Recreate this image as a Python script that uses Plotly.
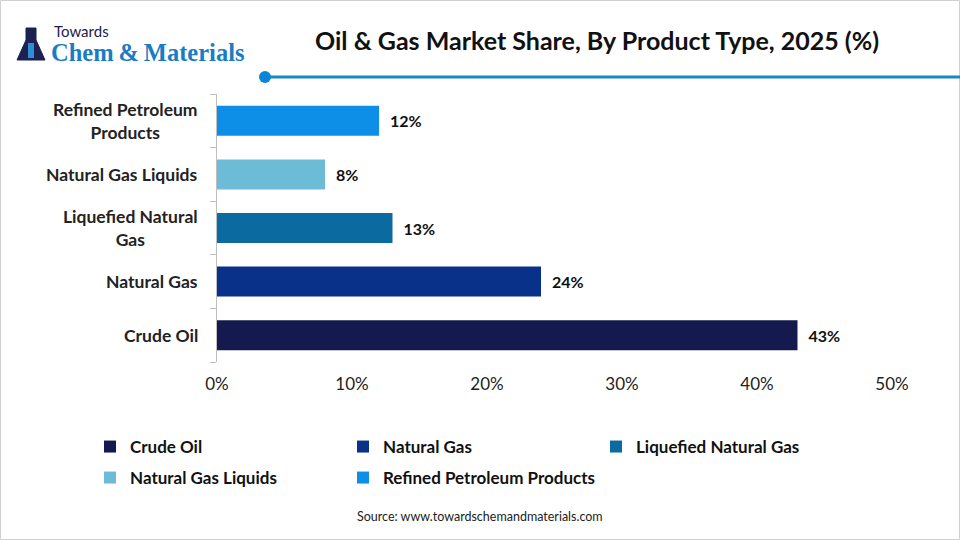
import plotly.graph_objects as go

categories = ["Crude Oil", "Natural Gas", "Liquefied Natural Gas", "Natural Gas Liquids", "Refined Petroleum Products"]
axis_labels = ["Crude Oil", "Natural Gas", "Liquefied Natural<br>Gas", "Natural Gas Liquids", "Refined Petroleum<br>Products"]
shares = [43, 24, 13, 8, 12]
colors = ["#141A4E", "#0A318A", "#0B6BA0", "#6CBCD8", "#0D8FE8"]
legend_rows = ["legend", "legend", "legend", "legend2", "legend2"]
x_ticks = [0, 10, 20, 30, 40, 50]
x_tick_text = ["0%", "10%", "20%", "30%", "40%", "50%"]

W, H = 960, 540
L, R, T, B = 217, 68, 94, 178
PW, PH = W - L - R, H - T - B

def px(x):
    return (x - L) / PW

def py(y):
    return (H - B - y) / PH

FONT = "Lato"

fig = go.Figure()
for cat, val, col, lg in zip(categories, shares, colors, legend_rows):
    fig.add_trace(go.Bar(
        x=[val], y=[cat], orientation="h", name=cat, legend=lg,
        marker=dict(color=col, line=dict(width=0)),
        width=0.56,
        text=[f"\u2002{val}%"], textposition="outside",
        textfont=dict(family=FONT, size=16, color="#111111", weight="bold"),
        cliponaxis=False,
        hoverinfo="skip",
    ))

annotations = []
for cat, lab in zip(categories, axis_labels):
    annotations.append(dict(
        x=px(L - 17), xref="paper", y=cat, yref="y", text=lab, showarrow=False,
        xanchor="right", align="center",
        font=dict(family=FONT, size=17.5, color="#222222", weight="bold"),
    ))

annotations += [
    dict(x=px(597), y=py(40), xref="paper", yref="paper", text="Oil & Gas Market Share, By Product Type, 2025 (%)",
         showarrow=False, xanchor="center", yanchor="middle",
         font=dict(family=FONT, size=25, color="#111111", weight="bold")),
    dict(x=px(480), y=py(516), xref="paper", yref="paper", text="Source: www.towardschemandmaterials.com",
         showarrow=False, xanchor="center", yanchor="middle",
         font=dict(family=FONT, size=12.5, color="#222222")),
    dict(x=px(52), y=py(31), xref="paper", yref="paper", text="Towards",
         showarrow=False, xanchor="left", yanchor="middle",
         font=dict(family="Lato", size=15, color="#1B2150")),
    dict(x=px(49), y=py(52), xref="paper", yref="paper", text="Chem\u2009&\u2009Materials",
         showarrow=False, xanchor="left", yanchor="middle",
         font=dict(family="Liberation Serif", size=24.5, color="#1A7CC4", weight="bold")),
]

shapes = [
    dict(type="rect", xref="paper", yref="paper", x0=px(0.5), x1=px(959.5), y0=py(0.5), y1=py(539.5),
         line=dict(color="#D0D0D0", width=1), fillcolor="rgba(0,0,0,0)", layer="below"),
    dict(type="line", xref="paper", yref="paper", x0=px(265), x1=px(960), y0=py(77), y1=py(77),
         line=dict(color="#1A86C7", width=3)),
    dict(type="circle", xref="paper", yref="paper", x0=px(259), x1=px(271), y0=py(71), y1=py(83),
         line=dict(color="#0A86D6", width=0), fillcolor="#0A86D6"),
    dict(type="path", xref="paper", yref="paper",
         path=f"M {px(26)},{py(28)} L {px(36)},{py(28)} L {px(36)},{py(40)} L {px(45)},{py(60)} "
              f"L {px(17)},{py(60)} L {px(26)},{py(40)} Z",
         line=dict(color="#1B2150", width=1), fillcolor="#1B2150"),
    dict(type="rect", xref="paper", yref="paper", x0=px(28), x1=px(34), y0=py(43), y1=py(58),
         line=dict(width=0), fillcolor="#2E8FD6"),
]

legend_common = dict(orientation="h", xanchor="left", yanchor="middle",
                     entrywidth=208, entrywidthmode="pixels", traceorder="normal",
                     font=dict(family=FONT, size=17, color="#111111", weight="bold"),
                     itemwidth=30, bgcolor="rgba(0,0,0,0)")

fig.update_layout(
    width=W, height=H,
    margin=dict(l=L, r=R, t=T, b=B),
    paper_bgcolor="white", plot_bgcolor="white",
    barmode="overlay",
    showlegend=True,
    legend=dict(x=px(90), y=py(447), **legend_common),
    legend2=dict(x=px(90), y=py(478), **legend_common),
    xaxis=dict(range=[0, 50], tickvals=x_ticks, ticktext=x_tick_text, showgrid=False, zeroline=False,
               showline=False, ticks="", ticklabelstandoff=10,
               tickfont=dict(family=FONT, size=17, color="#222222")),
    yaxis=dict(categoryorder="array", categoryarray=categories, showticklabels=False,
               showline=True, linecolor="#BFBFBF", linewidth=1, ticks="outside", ticklen=6,
               tickcolor="#BFBFBF", tickson="boundaries", showgrid=False, zeroline=False),
    annotations=annotations,
    shapes=shapes,
)

fig.write_html("out.html")
